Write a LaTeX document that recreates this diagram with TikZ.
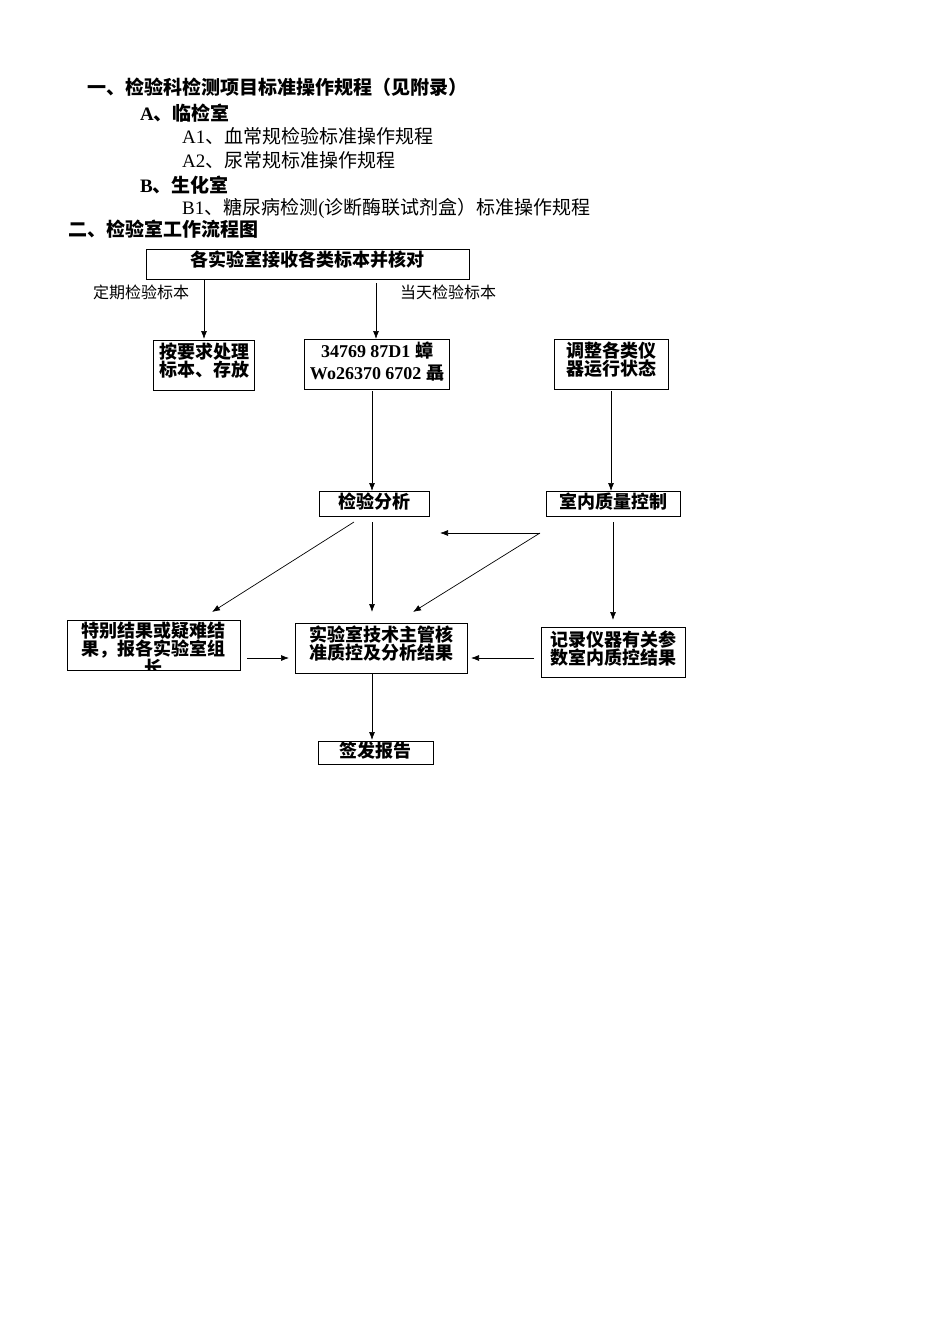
\documentclass[tikz,border=0pt]{standalone}
\usepackage{fontspec}
\setmainfont{Liberation Serif}
\newfontfamily\cjk{Noto Sans CJK SC}
\usetikzlibrary{arrows.meta}
\newcommand{\lt}[1]{{\rmfamily #1}}
\begin{document}
\begin{tikzpicture}[x=1pt,y=-1pt,
  bx/.style={draw,line width=0.8pt},
  bt/.style={font=\fontsize{18}{18}\selectfont\cjk\bfseries,align=center,inner sep=0pt},
  ht/.style={anchor=west,inner sep=0pt,font=\fontsize{19}{19}\selectfont\cjk},
  hb/.style={ht,font=\fontsize{19}{19}\selectfont\cjk\bfseries},
  arr/.style={-{Latex[length=8pt,width=6pt]},line width=0.7pt}]
\useasboundingbox (0,0) rectangle (950,1344);
\node[hb] (h1) at (87,87) {一、检验科检测项目标准操作规程（见附录）};
\node[hb] (h2) at (140,113) {\lt{A}、临检室};
\node[ht] (h3) at (182,136) {\lt{A1}、血常规检验标准操作规程};
\node[ht] (h4) at (182,160) {\lt{A2}、尿常规标准操作规程};
\node[hb] (h5) at (140,185) {\lt{B}、生化室};
\node[ht] (h6) at (182,208) {\lt{B1}、糖尿病检测\lt{(}诊断酶联试剂盒）标准操作规程};
\node[hb] (h7) at (68,229) {二、检验室工作流程图};
% boxes
\draw[bx] (146,249) rectangle (469,279);
\node[bt] (top) at (307,260) {各实验室接收各类标本并核对};
\node[ht,font=\fontsize{16}{16}\selectfont\cjk] (l1) at (93,292) {定期检验标本};
\node[ht,font=\fontsize{16}{16}\selectfont\cjk] (l2) at (400,292) {当天检验标本};
\draw[bx] (153,340) rectangle (254,390);
\node[bt] (b1) at (204,361) {按要求处理\\标本、存放};
\draw[bx] (304,339) rectangle (449,389);
\node[bt,font=\fontsize{18}{22}\selectfont\bfseries] (b2) at (377,362) {34769 87D1 {\cjk 蟑}\\Wo26370 6702 {\cjk 聶}};
\draw[bx] (554,339) rectangle (668,389);
\node[bt] (b3) at (611,360) {调整各类仪\\器运行状态};
\draw[bx] (319,491) rectangle (429,516);
\node[bt] (c1) at (374,502) {检验分析};
\draw[bx] (546,491) rectangle (680,516);
\node[bt] (c2) at (613,502) {室内质量控制};
\draw[bx] (67,620) rectangle (240,670);
\begin{scope}
\clip (67,620) rectangle (240,670);
\node[bt,anchor=north] (d1) at (153,622) {特别结果或疑难结\\果，报各实验室组\\长};
\end{scope}
\draw[bx] (295,623) rectangle (467,673);
\node[bt] (d2) at (381,644) {实验室技术主管核\\准质控及分析结果};
\draw[bx] (541,627) rectangle (685,677);
\node[bt] (d3) at (613,649) {记录仪器有关参\\数室内质控结果};
\draw[bx] (318,741) rectangle (433,764);
\node[bt] (e1) at (375,751) {签发报告};
% arrows
\coordinate (p1) at (204,280); \coordinate (q1) at (204,339);
\coordinate (p2) at (376,283); \coordinate (q2) at (376,339);
\coordinate (p3) at (372,391); \coordinate (q3) at (372,491);
\coordinate (p4) at (611,391); \coordinate (q4) at (611,491);
\coordinate (p5) at (354,522); \coordinate (q5) at (212,612);
\coordinate (p6) at (372,522); \coordinate (q6) at (372,612);
\coordinate (p7) at (540,533); \coordinate (q7) at (440,533); \coordinate (r7) at (413,612);
\coordinate (p8) at (613,522); \coordinate (q8) at (613,620);
\coordinate (p9) at (247,658); \coordinate (q9) at (289,658);
\coordinate (p10) at (534,658); \coordinate (q10) at (471,658);
\coordinate (p11) at (372,673); \coordinate (q11) at (372,740);
\foreach \a/\b in {p1/q1,p2/q2,p3/q3,p4/q4,p5/q5,p6/q6,p7/q7,p7/r7,p8/q8,p9/q9,p10/q10,p11/q11}
  \draw[arr] (\a) -- (\b);
\end{tikzpicture}
\end{document}
